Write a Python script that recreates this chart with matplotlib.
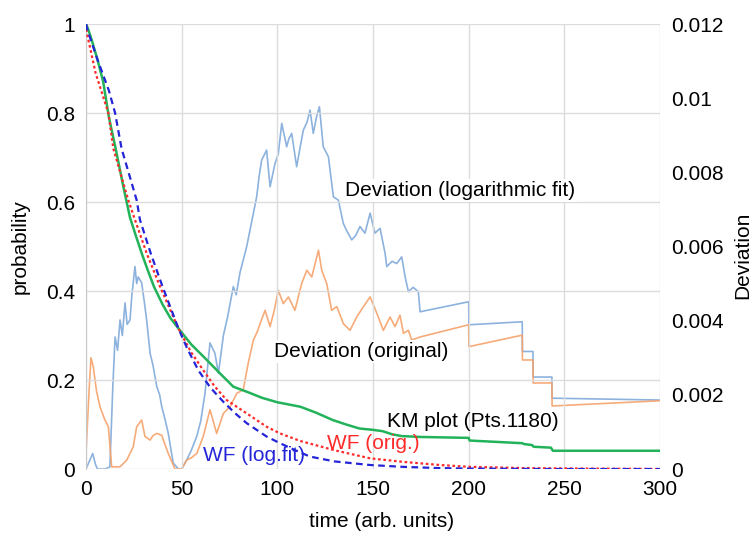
import numpy as np
import matplotlib
matplotlib.use("Agg")
import matplotlib.pyplot as plt
from matplotlib.ticker import FuncFormatter

plt.rcParams['font.family'] = ['Liberation Sans', 'DejaVu Sans']

# KM plot (probability)
km_t = [0, 1, 3, 6, 9, 12, 15.5, 19.5, 23, 26, 29.1, 32, 35.5, 40, 44, 48.3, 55, 62, 70, 77,
        85, 92, 100, 112, 120, 129, 136, 143, 150, 155, 160, 165, 175, 200, 200.5, 228, 229,
        233, 234, 243, 244, 300]
km_p = [1.0, 0.99, 0.964, 0.92, 0.87, 0.79, 0.72, 0.635, 0.565, 0.525, 0.485, 0.45, 0.41, 0.37,
        0.34, 0.316, 0.28, 0.25, 0.215, 0.185, 0.172, 0.16, 0.15, 0.14, 0.127, 0.11, 0.10, 0.091,
        0.088, 0.085, 0.078, 0.074, 0.072, 0.070, 0.064, 0.058, 0.056, 0.054, 0.050, 0.048,
        0.041, 0.041]

# WF (orig.)
wfo_t = [0, 0.3, 5, 11.7, 14.3, 22.1, 25.6, 31.7, 38.7, 48.3, 55, 61.3, 67, 73.5, 84, 94.4,
         101.4, 112, 130, 148.5, 166, 185, 200, 230, 260, 300]
wfo_p = [1.0, 0.983, 0.89, 0.80, 0.72, 0.604, 0.56, 0.485, 0.41, 0.316, 0.262, 0.222, 0.187,
         0.155, 0.125, 0.095, 0.08, 0.063, 0.042, 0.024, 0.016, 0.009, 0.005, 0.002, 0.001, 0.0]

# WF (log.fit)
wfl_t = [0, 0.5, 6, 12, 15.2, 18.6, 26.5, 28.2, 33.8, 40, 48.3, 53, 58.7, 65, 71.8, 78, 84,
         94.4, 101.4, 110, 117, 130, 148.5, 165, 185, 200, 240, 300]
wfl_p = [1.0, 0.99, 0.92, 0.85, 0.80, 0.72, 0.604, 0.56, 0.485, 0.41, 0.316, 0.27, 0.222,
         0.183, 0.151, 0.125, 0.103, 0.073, 0.058, 0.041, 0.028, 0.017, 0.009, 0.005, 0.002,
         0.001, 0.0, 0.0]

# Deviation (logarithmic fit), x 1e-3
dlog_t = [0, 2, 3.5, 5, 6, 10, 12.5, 14, 15.2, 16.5, 17.8, 19, 20.4, 21.5, 23, 24, 25.6, 26.5,
          27.3, 29.1, 30.5, 31.7, 33.5, 35, 37, 38.5, 39.6, 41.5, 43, 45.6, 48.3, 50, 52.6, 55,
          57.9, 60, 62.2, 64.8, 67.4, 69.2, 71.8, 74, 77, 78.5, 80.5, 82, 84, 85.7, 87.5, 89.2,
          90.5, 91.8, 94.4, 96.2, 98.8, 100.5, 102.3, 104.9, 106, 107.5, 110.1, 112, 113.6,
          115.5, 117.1, 118.8, 120.5, 122, 124, 126.7, 129.3, 131.9, 134.5, 136.5, 138.9,
          141, 143.2, 145.8, 148.5, 151, 153.7, 156.3, 157.2, 160, 162.4, 165, 166.8, 168.5,
          171, 173.7, 174.6, 200, 200.1, 228, 228.1, 233.6, 233.7, 243.5, 243.6, 300]
dlog_v = [0, 0.24, 0.42, 0.12, 0, 0, 0.06, 2.2, 3.56, 3.2, 4.02, 3.6, 4.48, 3.9, 4.02, 4.7,
          5.46, 5.0, 5.18, 5.02, 4.5, 4.02, 3.12, 2.8, 2.22, 2.0, 1.68, 1.3, 0.96, 0.16, 0, 0,
          0.24, 0.5, 0.88, 1.3, 2.04, 3.40, 3.12, 2.58, 3.6, 4.1, 4.92, 4.7, 5.3, 5.6, 6.0, 6.44,
          6.9, 7.34, 7.9, 8.33, 8.6, 7.61, 8.24, 8.5, 9.32, 8.69, 8.9, 9.05, 8.15, 8.7, 9.14,
          9.35, 9.68, 9.05, 9.5, 9.77, 8.69, 8.42, 7.34, 7.25, 6.62, 6.4, 6.18, 6.3, 6.54, 6.36,
          6.9, 6.36, 6.49, 5.82, 5.46, 5.6, 5.54, 5.72, 5.18, 4.78, 4.9, 4.78, 4.24, 4.51, 3.89,
          3.97, 3.17, 3.17, 2.48, 2.48, 1.91, 1.86]
dlog_v = [v / 1000 for v in dlog_v]

# Deviation (original), x 1e-3
dorg_t = [0, 1.5, 2.6, 3.8, 5.5, 7.3, 9.9, 11.7, 13.4, 17.8, 21.3, 24.7, 26.5, 29.1, 30.8,
          33.5, 35, 37, 39.6, 41, 43, 46.5, 50, 52.6, 55, 57.9, 61.3, 64.8, 68.3, 71.8, 75.3,
          78.8, 82.2, 84.8, 87.5, 89.5, 91, 93.6, 96.2, 98.5, 100.5, 103.1, 105.8, 109.2, 112.7,
          115.4, 118, 121.5, 123.2, 125.8, 128.4, 131.1, 134.5, 138, 141.5, 145, 148.5, 152,
          155.4, 158.9, 161.5, 164.1, 165.9, 168.5, 170.2, 174.6, 200, 200.1, 228, 228.1,
          233.6, 233.7, 243.5, 243.6, 300]
dorg_v = [0.43, 2.0, 3.0, 2.76, 2.1, 1.68, 1.32, 1.14, 0.06, 0.06, 0.24, 0.6, 1.14, 1.32,
          0.88, 0.78, 0.9, 0.96, 0.91, 0.7, 0.42, 0, 0, 0.24, 0.3, 0.42, 0.88, 1.6, 0.96, 1.5,
          1.68, 2.04, 2.14, 2.86, 3.48, 3.7, 3.92, 4.28, 3.84, 4.3, 4.82, 4.46, 4.64, 4.28, 5.0,
          5.36, 5.18, 5.9, 5.36, 5.0, 4.28, 4.38, 3.92, 3.74, 4.1, 4.38, 4.64, 4.2, 3.74, 4.1,
          3.84, 4.15, 3.66, 3.74, 3.48, 3.56, 3.89, 3.3, 3.61, 2.94, 2.94, 2.32, 2.32, 1.70,
          1.84]
dorg_v = [v / 1000 for v in dorg_v]

fig = plt.figure(figsize=(7.53, 5.37), dpi=100)
ax = fig.add_axes([0.1142, 0.1266, 0.7623, 0.8287])
ax2 = ax.twinx()
ax.set_zorder(ax2.get_zorder() + 1)
ax.patch.set_visible(False)

grid_c = "#dcdcdc"
ax.grid(True, color=grid_c, linewidth=1.0, zorder=0)
ax.set_axisbelow(True)

ax2.plot(dlog_t, dlog_v, color="#80aadb", linewidth=1.2, alpha=0.9)
ax2.plot(dorg_t, dorg_v, color="#f5a26b", linewidth=1.2, alpha=0.9)

ax.plot(km_t, km_p, color="#22b35a", linewidth=1.8, zorder=3)
ax.plot(wfo_t, wfo_p, color="#ff2a2a", linewidth=1.6, linestyle=(0, (1.2, 1.2)), zorder=4)
ax.plot(wfl_t, wfl_p, color="#2424d8", linewidth=1.6, linestyle=(0, (3, 2)), zorder=4)

ax.set_xlim(0, 300)
ax.set_ylim(0, 1)
ax2.set_ylim(0, 0.012)
ax.set_xticks([0, 50, 100, 150, 200, 250, 300])
ax.set_yticks([0, 0.2, 0.4, 0.6, 0.8, 1.0])
ax2.set_yticks([0, 0.002, 0.004, 0.006, 0.008, 0.01, 0.012])
fmt = FuncFormatter(lambda v, pos: "%g" % round(v, 4))
ax.yaxis.set_major_formatter(fmt)
ax2.yaxis.set_major_formatter(fmt)

fs = 15
ax.tick_params(length=0, labelsize=fs, pad=8)
ax2.tick_params(length=0, labelsize=fs, pad=8)
for a in (ax, ax2):
    for s in a.spines.values():
        s.set_visible(False)
ax.spines['left'].set_visible(True)
ax.spines['left'].set_color("#c8c8c8")

ax.set_xlabel("time (arb. units)", fontsize=fs)
ax.set_ylabel("probability", fontsize=fs)
ax2.set_ylabel("Deviation", fontsize=fs, rotation=90)
ax.xaxis.set_label_coords(0.515, -0.097)
ax.yaxis.set_label_coords(-0.098, 0.5)
ax2.yaxis.set_label_coords(1.127, 0.48)

box = dict(facecolor="white", edgecolor="none", pad=1.5)
ax.text(135.4, 0.625, "Deviation (logarithmic fit)", fontsize=fs, va="center", ha="left",
        bbox=box, zorder=6)
ax.text(98.3, 0.265, "Deviation (original)", fontsize=fs, va="center", ha="left",
        bbox=box, zorder=6)
ax.text(157.3, 0.106, "KM plot (Pts.1180)", fontsize=fs, va="center", ha="left", zorder=6)
ax.text(126, 0.058, "WF (orig.)", fontsize=fs, color="#ff2a2a", va="center", ha="left",
        zorder=6)
ax.text(61.2, 0.031, "WF (log.fit)", fontsize=fs, color="#2424d8", va="center", ha="left",
        zorder=6)

fig.savefig("out.png", dpi=100)
